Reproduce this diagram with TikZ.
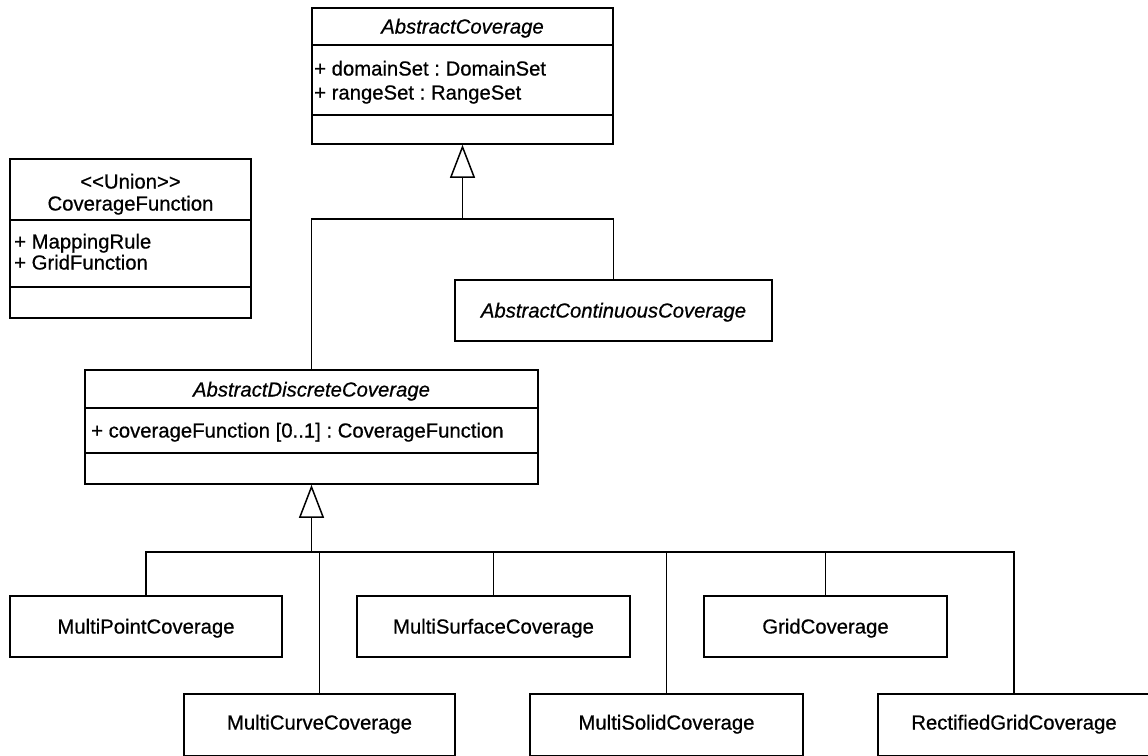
\documentclass[tikz,border=0pt]{standalone}
\usepackage{fontspec}
\setmainfont{Liberation Sans}[FakeBold=0.6]
\usetikzlibrary{arrows.meta}
\frenchspacing
\tikzset{
  box/.style={draw=black, line width=1.6pt, fill=white, inner sep=0pt},
  sep/.style={draw=black, line width=1.6pt},
  txt/.style={inner sep=0pt, text height=15pt, text depth=4pt, font=\fontsize{20.3}{24}\selectfont},
  attr/.style={txt, anchor=west},
  conn/.style={draw=black, line width=1.5pt},
  gen/.style={conn, -{Triangle[open, length=33pt, width=25pt, line width=1.5pt]}},
}
\begin{document}
\begin{tikzpicture}[x=1pt,y=-1pt]
\useasboundingbox (0,0) rectangle (1148,755);
\clip (0,0) rectangle (1148,755);
\fill[white] (0,0) rectangle (1148,755);

% AbstractCoverage
\node[box, minimum width=301pt, minimum height=136pt] (ac) at (462.5,76) {};
\draw[sep] (312,45) -- (613,45);
\draw[sep] (312,115) -- (613,115);
\node[txt] (act) at (462.5,28) {\itshape AbstractCoverage};
\node[attr] (aca1) at (314,70) {+ domainSet : DomainSet};
\node[attr] (aca2) at (314,94) {+ rangeSet : RangeSet};

% CoverageFunction
\node[box, minimum width=241pt, minimum height=159pt] (cf) at (130.5,238.5) {};
\draw[sep] (10,220) -- (251,220);
\draw[sep] (10,287) -- (251,287);
\node[txt] (cfs) at (130.5,183) {{<}{<}Union{>}{>}};
\node[txt] (cft) at (130.5,205) {CoverageFunction};
\node[attr] (cfa1) at (14,243) {+ MappingRule};
\node[attr] (cfa2) at (14,264) {+ GridFunction};

% AbstractContinuousCoverage
\node[box, minimum width=317pt, minimum height=61pt] (acc) at (613.5,310.5) {};
\node[txt] (acct) at (613.5,312) {\itshape AbstractContinuousCoverage};

% AbstractDiscreteCoverage
\node[box, minimum width=453pt, minimum height=114pt] (adc) at (311.5,427) {};
\draw[sep] (85,408) -- (538,408);
\draw[sep] (85,453) -- (538,453);
\node[txt] (adct) at (311.5,391) {\itshape AbstractDiscreteCoverage};
\node[attr] (adca) at (91,432) {+ coverageFunction [0..1] : CoverageFunction};

% bottom row 1
\node[box, minimum width=272pt, minimum height=61pt] (mp) at (146,626.5) {};
\node[txt] (mpt) at (146,628) {MultiPointCoverage};
\node[box, minimum width=273pt, minimum height=61pt] (msu) at (493.5,626.5) {};
\node[txt] (msut) at (493.5,628) {MultiSurfaceCoverage};
\node[box, minimum width=243pt, minimum height=61pt] (gc) at (825.5,626.5) {};
\node[txt] (gct) at (825.5,628) {GridCoverage};

% bottom row 2
\node[box, minimum width=271pt, minimum height=62pt] (mc) at (319.5,725) {};
\node[txt] (mct) at (319.5,724) {MultiCurveCoverage};
\node[box, minimum width=273pt, minimum height=62pt] (mso) at (666.5,725) {};
\node[txt] (msot) at (666.5,724) {MultiSolidCoverage};
\node[box, minimum width=272pt, minimum height=62pt] (rg) at (1014,725) {};
\node[txt] (rgt) at (1014,724) {RectifiedGridCoverage};

% connectors: upper generalization
\coordinate (j1) at (462.5,219);
\draw[gen] (j1) -- (ac.south);
\draw[conn] (adc.north) |- (j1) -| (acc.north);

% connectors: lower generalization
\coordinate (j2) at (311.5,552);
\draw[gen] (j2) -- (adc.south);
\draw[conn] (mp.north) |- (j2) -| (rg.north);
\draw[conn] (mc.north) -- (mc.north |- j2);
\draw[conn] (msu.north) -- (msu.north |- j2);
\draw[conn] (mso.north) -- (mso.north |- j2);
\draw[conn] (gc.north) -- (gc.north |- j2);
\end{tikzpicture}
\end{document}
